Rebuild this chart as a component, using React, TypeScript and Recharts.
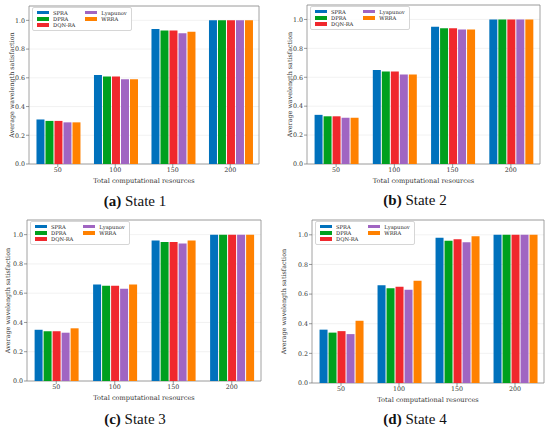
import React from 'react';
import { BarChart, Bar, XAxis, YAxis, CartesianGrid, Legend, ReferenceArea } from 'recharts';

const categories = ['50', '100', '150', '200'];
const seriesNames = ['SPRA', 'DPRA', 'DQN-RA', 'Lyapunov', 'WRRA'];
const seriesColors = ['#0071bc', '#00a01e', '#f0282d', '#a065c2', '#ff8100'];
const yTicks = [0, 0.2, 0.4, 0.6, 0.8, 1.0];

const state1Spra = [0.31, 0.62, 0.94, 1.0];
const state1Dpra = [0.30, 0.61, 0.93, 1.0];
const state1Dqn = [0.30, 0.61, 0.93, 1.0];
const state1Lyap = [0.29, 0.59, 0.91, 1.0];
const state1Wrra = [0.29, 0.59, 0.92, 1.0];

const state2Spra = [0.34, 0.65, 0.95, 1.0];
const state2Dpra = [0.33, 0.64, 0.94, 1.0];
const state2Dqn = [0.33, 0.64, 0.94, 1.0];
const state2Lyap = [0.32, 0.62, 0.93, 1.0];
const state2Wrra = [0.32, 0.62, 0.93, 1.0];

const state3Spra = [0.35, 0.66, 0.96, 1.0];
const state3Dpra = [0.34, 0.65, 0.95, 1.0];
const state3Dqn = [0.34, 0.65, 0.95, 1.0];
const state3Lyap = [0.33, 0.63, 0.94, 1.0];
const state3Wrra = [0.36, 0.66, 0.96, 1.0];

const state4Spra = [0.36, 0.66, 0.98, 1.0];
const state4Dpra = [0.34, 0.64, 0.96, 1.0];
const state4Dqn = [0.35, 0.65, 0.97, 1.0];
const state4Lyap = [0.33, 0.63, 0.95, 1.0];
const state4Wrra = [0.42, 0.69, 0.99, 1.0];

const captionLetters = ['a', 'b', 'c', 'd'];
const captionTitles = ['State 1', 'State 2', 'State 3', 'State 4'];

const stateSeries = [
  [state1Spra, state1Dpra, state1Dqn, state1Lyap, state1Wrra],
  [state2Spra, state2Dpra, state2Dqn, state2Lyap, state2Wrra],
  [state3Spra, state3Dpra, state3Dqn, state3Lyap, state3Wrra],
  [state4Spra, state4Dpra, state4Dqn, state4Lyap, state4Wrra],
];

const buildRows = (series: number[][]) =>
  categories.map((c, i) => {
    const row: Record<string, string | number> = { cat: c };
    seriesNames.forEach((n, k) => {
      row[n] = series[k][i];
    });
    return row;
  });

// layout of each panel (pixels)
const layouts = [
  { plotLeft: 29, plotTop: 6, plotW: 230, plotH: 158, yLabelDist: 17, capX: 135, capY: 192 },
  { plotLeft: 307, plotTop: 5, plotW: 233, plotH: 159, yLabelDist: 17, capX: 415, capY: 191 },
  { plotLeft: 27, plotTop: 220, plotW: 234, plotH: 161, yLabelDist: 19, capX: 135, capY: 410 },
  { plotLeft: 312, plotTop: 220, plotW: 232, plotH: 163, yLabelDist: 28, capX: 415, capY: 410 },
];

const FONT = '"DejaVu Serif", serif';
const Y_W = 40;
const X_H = 22;
const M_TOP = 5;
const M_RIGHT = 5;

const LegendBox = (props: any) => {
  const payload = [...(props.payload || [])].sort(
    (a: any, b: any) => seriesNames.indexOf(a.value) - seriesNames.indexOf(b.value)
  );
  return (
    <div
      style={{
        display: 'grid',
        gridTemplateRows: 'repeat(3, 6.3px)',
        gridAutoFlow: 'column',
        columnGap: 10,
        padding: '1.5px 4px 2px 4px',
        border: '0.8px solid #d6d6d6',
        borderRadius: 2,
        background: 'rgba(255,255,255,0.85)',
        fontFamily: FONT,
        fontSize: 5.2,
        color: '#222',
        lineHeight: '6.3px',
      }}
    >
      {payload.map((p: any) => (
        <div key={p.value} style={{ display: 'flex', alignItems: 'center', whiteSpace: 'nowrap' }}>
          <span style={{ display: 'inline-block', width: 12, height: 3.5, background: p.color, marginRight: 4 }} />
          <span>{p.value}</span>
        </div>
      ))}
    </div>
  );
};

const Panel = ({ idx }: { idx: number }) => {
  const L = layouts[idx];
  const data = buildRows(stateSeries[idx]);
  const width = Y_W + L.plotW + M_RIGHT;
  const height = M_TOP + L.plotH + X_H;
  const yLabel = (p: any) => {
    const vb = p.viewBox;
    const x = vb.x + vb.width - L.yLabelDist + 2;
    const y = vb.y + vb.height / 2;
    return (
      <text
        x={x}
        y={y}
        transform={`rotate(-90 ${x} ${y})`}
        textAnchor="middle"
        fontFamily={FONT}
        fontSize={6.4}
        fill="#333"
      >
        Average wavelength satisfaction
      </text>
    );
  };
  return (
    <>
      <div style={{ position: 'absolute', left: L.plotLeft - Y_W, top: L.plotTop - M_TOP }}>
        <BarChart
          width={width}
          height={height}
          data={data}
          margin={{ top: M_TOP, right: M_RIGHT, left: 0, bottom: 0 }}
          barCategoryGap="13%"
          barGap={1}
        >
          <CartesianGrid vertical={false} stroke="#ececec" strokeWidth={0.7} />
          <XAxis
            dataKey="cat"
            height={X_H}
            tick={{ fontFamily: FONT, fontSize: 6.3, fill: '#333' }}
            tickSize={3}
            tickMargin={1}
            tickLine={{ stroke: '#555', strokeWidth: 0.6 }}
            axisLine={false}
            label={{
              value: 'Total computational resources',
              position: 'insideBottom',
              offset: 3,
              style: { fontFamily: FONT, fontSize: 6.6, fill: '#333' },
            }}
          />
          <YAxis
            width={Y_W}
            domain={[0, 1.1]}
            ticks={yTicks}
            tickFormatter={(v: number) => v.toFixed(1)}
            tick={{ fontFamily: FONT, fontSize: 6.3, fill: '#333' }}
            tickSize={3}
            tickMargin={1}
            tickLine={{ stroke: '#555', strokeWidth: 0.6 }}
            axisLine={false}
            label={{ content: yLabel } as any}
          />
          {seriesNames.map((n, k) => (
            <Bar key={n} dataKey={n} name={n} fill={seriesColors[k]} isAnimationActive={false} />
          ))}
          <ReferenceArea y1={0} y2={1.1} fill="none" stroke="#8a8a8a" strokeWidth={0.8} ifOverflow="visible" />
          <Legend
            layout="horizontal"
            verticalAlign="middle"
            align="center"
            content={<LegendBox />}
            wrapperStyle={{ position: 'absolute', top: M_TOP + 1, left: Y_W + 3, width: 'auto', height: 'auto' }}
          />
        </BarChart>
      </div>
      <div
        style={{
          position: 'absolute',
          left: L.capX - 60,
          width: 120,
          top: L.capY,
          textAlign: 'center',
          fontFamily: '"Liberation Serif", serif',
          fontSize: 15,
          lineHeight: '18px',
          color: '#111',
        }}
      >
        <b>({captionLetters[idx]})</b> {captionTitles[idx]}
      </div>
    </>
  );
};

export default function App() {
  return (
    <div style={{ position: 'absolute', left: 0, top: 0, width: 550, height: 431, background: '#fff', overflow: 'hidden' }}>
      {[0, 1, 2, 3].map((i) => (
        <Panel key={i} idx={i} />
      ))}
    </div>
  );
}
